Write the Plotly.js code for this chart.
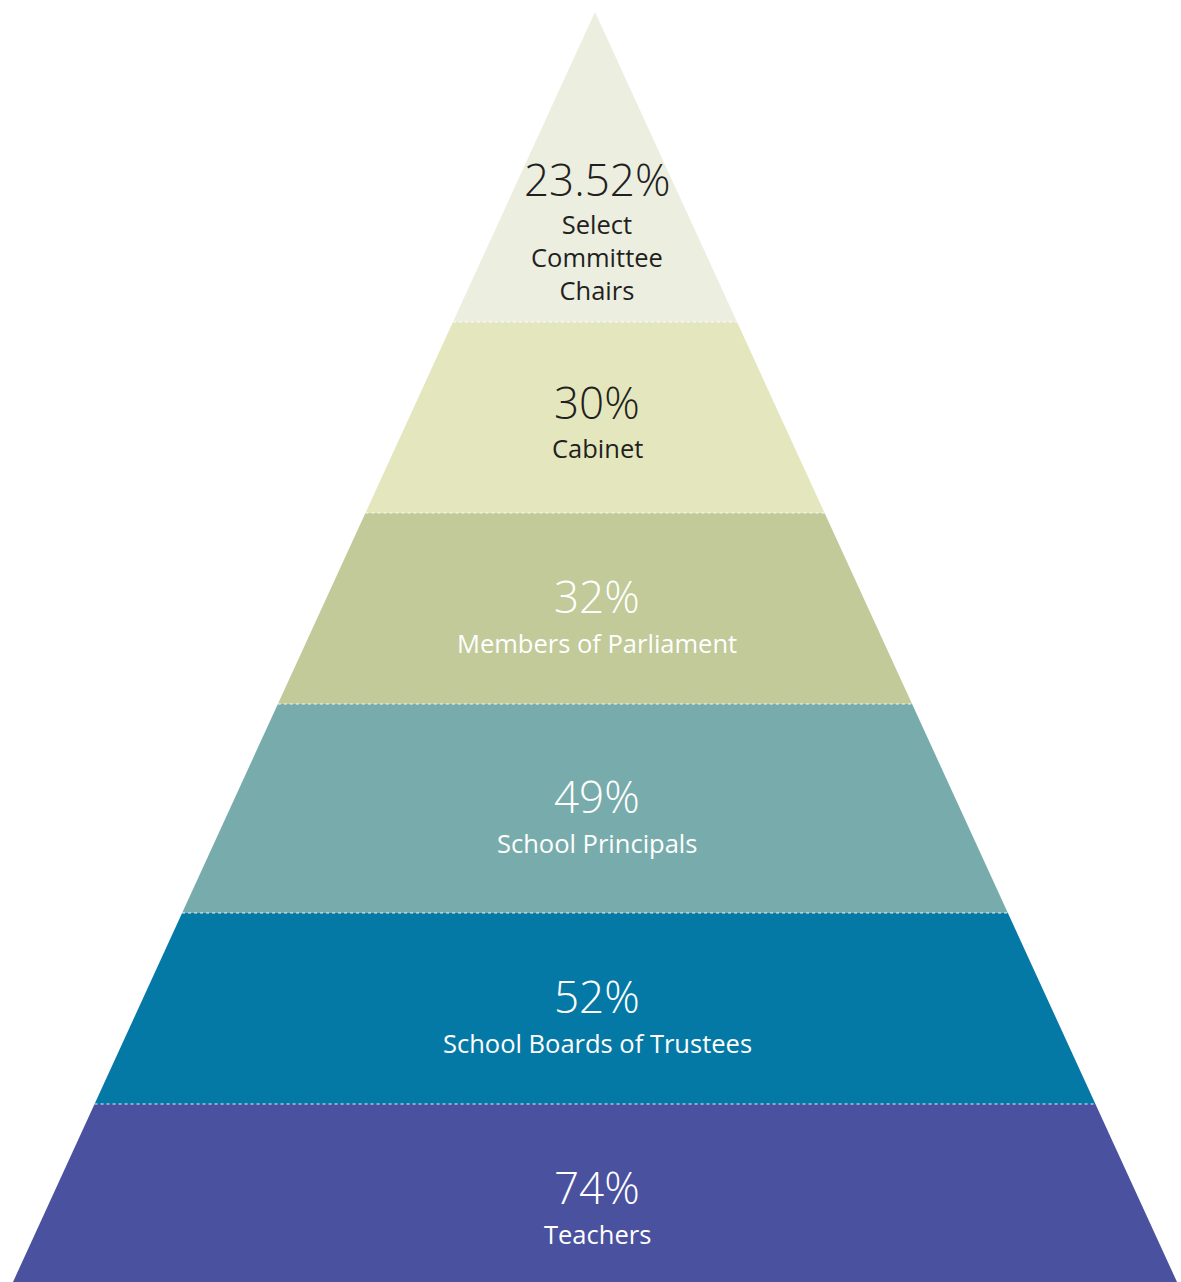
<!DOCTYPE html>
<html>
<head>
<meta charset="utf-8">
<script src="https://cdn.plot.ly/plotly-3.0.1.min.js"></script>
<style>
html,body{margin:0;padding:0;background:#fff;}
#chart{width:1181px;height:1282px;}
</style>
</head>
<body>
<div id="chart"></div>
<script>
// ---- data ----
const categories = ["Select Committee Chairs", "Cabinet", "Members of Parliament", "School Principals", "School Boards of Trustees", "Teachers"];
const displayLabels = ["Select<br>Committee<br>Chairs", "Cabinet", "Members of Parliament", "School Principals", "School Boards of Trustees", "Teachers"];
const percentages = [23.52, 30, 32, 49, 52, 74];

// ---- styling / geometry ----
const fillColors = ["#ECEEE0", "#E4E7BD", "#C1CA98", "#78ACAC", "#0579A6", "#4A52A0"];
const textColors = ["#231F20", "#231F20", "#FFFFFF", "#FFFFFF", "#FFFFFF", "#FFFFFF"];
const W = 1181, H = 1282;
const apex = {x: 595, y: 12};
const halfSlope = 582 / 1270;           // half-width per unit of depth
const layerBounds = [12, 322, 513, 704, 913, 1104, 1295];
const textX = 597;
const FONT = "Open Sans, Lato, sans-serif";

function halfWidth(y) { return halfSlope * (y - apex.y); }

const traces = [];
const annotations = [];

categories.forEach((cat, i) => {
  const y0 = layerBounds[i], y1 = layerBounds[i + 1];
  const xs = [apex.x - halfWidth(y0), apex.x + halfWidth(y0), apex.x + halfWidth(y1), apex.x - halfWidth(y1), apex.x - halfWidth(y0)];
  const ys = [y0, y0, y1, y1, y0];
  traces.push({
    type: "scatter", mode: "lines", x: xs, y: ys, fill: "toself",
    fillcolor: fillColors[i], line: {width: 0, color: fillColors[i]},
    name: cat, hoverinfo: "name", showlegend: false
  });

  const mid = (y0 + y1) / 2;
  let pctY;
  if (i === 0) pctY = y1 - 143;
  else if (i === 1) pctY = mid - 16;
  else pctY = mid - 12.5;
  const nLines = displayLabels[i].split("<br>").length;
  const labY = (i === 0) ? pctY + 78 : pctY + 46.5;

  annotations.push({
    x: textX, y: pctY, xref: "x", yref: "y", showarrow: false,
    text: percentages[i] + "%", xanchor: "center", yanchor: "middle",
    font: {family: FONT, size: 44, color: textColors[i], weight: 300}
  });
  annotations.push({
    x: textX, y: labY, xref: "x", yref: "y", showarrow: false,
    text: displayLabels[i], xanchor: "center", yanchor: "middle",
    font: {family: FONT, size: 25.5, color: textColors[i], weight: 400}
  });
});

// dotted separators between layers
for (let i = 1; i < categories.length; i++) {
  const y = layerBounds[i];
  traces.push({
    type: "scatter", mode: "lines",
    x: [apex.x - halfWidth(y), apex.x + halfWidth(y)], y: [y, y],
    line: {color: "rgba(255,255,255,0.9)", width: 1.2, dash: "dot"},
    hoverinfo: "skip", showlegend: false
  });
}

const layout = {
  width: W, height: H,
  margin: {l: 0, r: 0, t: 0, b: 0, pad: 0},
  paper_bgcolor: "#FFFFFF", plot_bgcolor: "#FFFFFF",
  xaxis: {range: [0, W], visible: false, fixedrange: true},
  yaxis: {range: [H, 0], visible: false, fixedrange: true},
  annotations: annotations,
  showlegend: false
};

Plotly.newPlot("chart", traces, layout, {displayModeBar: false, staticPlot: true});
</script>
</body>
</html>
